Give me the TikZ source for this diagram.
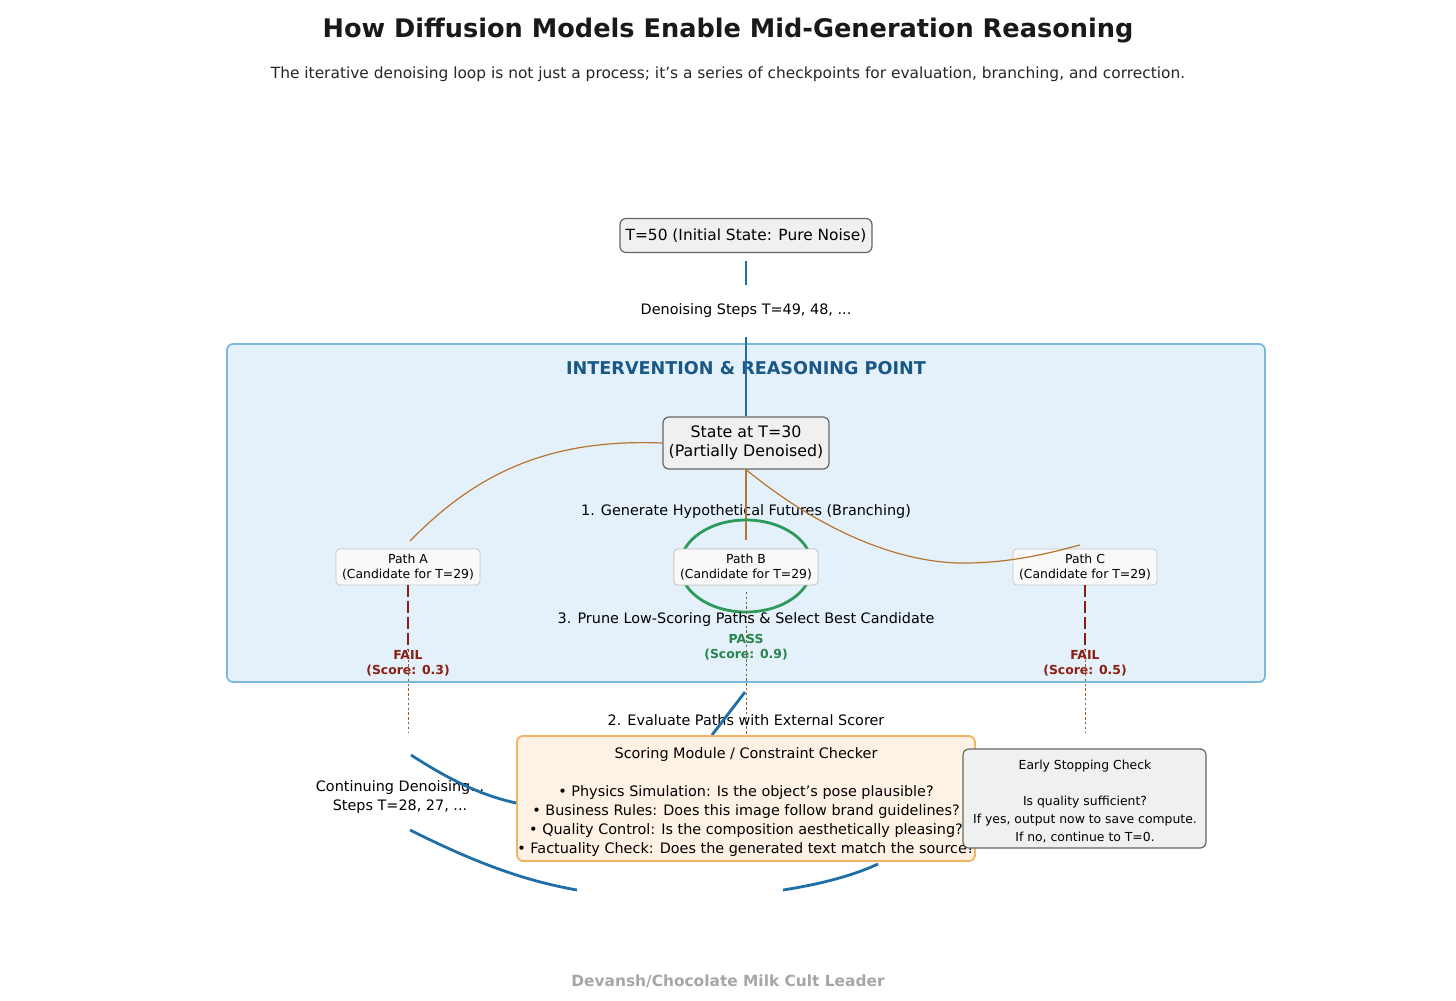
\documentclass[tikz,border=0pt]{standalone}
\usepackage{fontspec}
\setmainfont{DejaVu Sans}
\definecolor{bl}{HTML}{1F6EA6}
\definecolor{regfill}{HTML}{E4F1FB}
\definecolor{regdraw}{HTML}{7AB8DC}
\definecolor{brn}{HTML}{B8732E}
\definecolor{grn}{HTML}{2E9A5A}
\definecolor{dred}{HTML}{8B1E10}
\definecolor{orfill}{HTML}{FDF2E3}
\definecolor{ordraw}{HTML}{F0B464}
\begin{document}
\begin{tikzpicture}[x=0.5pt,y=-0.5pt,
 gbox/.style={draw=gray!80!black,fill=gray!12,rounded corners=3pt,line width=0.6pt,align=center,inner sep=0pt},
 pbox/.style={draw=gray!45,fill=gray!5,rounded corners=2pt,line width=0.4pt,align=center,inner sep=0pt,font=\fontsize{6.2}{7.6}\selectfont},
 t/.style={font=\fontsize{7.2}{9.5}\selectfont,align=center},
 bline/.style={draw=bl,line width=1.4pt},
 br/.style={draw=brn,line width=0.6pt},
 dot/.style={draw=brn!80!black,line width=0.5pt,dash pattern=on 1.2pt off 1.2pt},
 fail/.style={text=dred,font=\bfseries\fontsize{6.2}{7.6}\selectfont,align=center},
 failline/.style={draw=dred,line width=1pt,dash pattern=on 6pt off 2pt}]
\useasboundingbox (0,0) rectangle (1456,1001);
\node[font=\bfseries\fontsize{12.8}{16}\selectfont,text=black!90] (title) at (728,31) {How Diffusion Models Enable Mid-Generation Reasoning};
\node[font=\fontsize{7.7}{10}\selectfont,text=black!85] (sub) at (728,74) {The iterative denoising loop is not just a process; it's a series of checkpoints for evaluation, branching, and correction.};
\node[gbox,minimum width=126pt,minimum height=17pt,font=\fontsize{7.7}{10}\selectfont] (t50) at (746,235.5) {T=50 (Initial State: Pure Noise)};
\node[t] (den) at (746,311) {Denoising Steps T=49, 48, ...};
\coordinate (a1) at (746,261); \coordinate (a2) at (746,285);
\draw[bline] (a1) -- (a2);
\node[draw=regdraw,fill=regfill,rounded corners=3pt,line width=0.9pt,minimum width=519pt,minimum height=169pt] (region) at (746,513) {};
\node[text=bl!80!black,font=\bfseries\fontsize{8.8}{11}\selectfont] (rt) at (746,368) {INTERVENTION \& REASONING POINT};
\coordinate (b1) at (746,337);
\node[gbox,minimum width=83pt,minimum height=26pt,font=\fontsize{7.9}{9.7}\selectfont] (st) at (746,443) {State at T=30\\(Partially Denoised)};
\draw[bline] (b1) -- (st.north);
\node[t] (g1) at (746,512) {1. Generate Hypothetical Futures (Branching)};
\node[pbox,minimum width=72pt,minimum height=18pt] (pa) at (408,567) {Path A\\(Candidate for T=29)};
\node[pbox,minimum width=72pt,minimum height=18pt] (pb) at (746,567) {Path B\\(Candidate for T=29)};
\node[pbox,minimum width=72pt,minimum height=18pt] (pc) at (1085,567) {Path C\\(Candidate for T=29)};
\coordinate (ca) at (410,541); \coordinate (cb) at (746,540); \coordinate (cc) at (1080,545);
\draw[br] (st.west) .. controls (540,438) and (470,480) .. (ca);
\draw[br] (st.south) -- (cb);
\draw[br] (st.south) .. controls (820,530) and (900,565) .. (970,563) .. controls (1020,562) and (1060,550) .. (cc);
\draw[draw=grn,line width=1.4pt] (746,566) ellipse (66 and 46);
\node[pbox,minimum width=72pt,minimum height=18pt] at (746,567) {Path B\\(Candidate for T=29)};
\node[t] (g3) at (746,620) {3. Prune Low-Scoring Paths \& Select Best Candidate};
\node[fail] (fa) at (408,663) {FAIL\\(Score: 0.3)};
\node[fail] (fc) at (1085,663) {FAIL\\(Score: 0.5)};
\node[fail,text=grn!85!black] (pp) at (746,647) {PASS\\(Score: 0.9)};
\coordinate (fa1) at (408,650); \coordinate (fc1) at (1085,650);
\draw[failline] (pa.south) -- (fa1);
\draw[failline] (pc.south) -- (fc1);
\coordinate (da) at (408,733); \coordinate (dc) at (1085,733); \coordinate (db) at (746,735);
\draw[dot] (fa1) -- (da); \draw[dot] (fc1) -- (dc);
\draw[dot] (746,592) -- (db);
\node[t] (g2) at (746,720) {2. Evaluate Paths with External Scorer};
\coordinate (e1) at (745,692); \coordinate (e2) at (712,735);
\draw[bline] (e1) -- (e2);
\node[draw=ordraw,fill=orfill,rounded corners=3pt,line width=0.9pt,minimum width=229pt,minimum height=62.5pt] (sm) at (746,798.5) {};
\node[t,anchor=north] (smt) at (746,740) {Scoring Module / Constraint Checker\\[9.5pt]
 • Physics Simulation: Is the object's pose plausible?\\
 • Business Rules: Does this image follow brand guidelines?\\
 • Quality Control: Is the composition aesthetically pleasing?\\
 • Factuality Check: Does the generated text match the source?};
\node[gbox,minimum width=121.5pt,minimum height=49.5pt] (es) at (1084.5,798.5) {};
\node[font=\fontsize{6.2}{9}\selectfont,align=center,anchor=north] (est) at (1085,753) {Early Stopping Check\\[9pt]Is quality sufficient?\\If yes, output now to save compute.\\If no, continue to T=0.};
\node[t] (cont) at (400,797) {Continuing Denoising...\\Steps T=28, 27, ...};
\coordinate (l1) at (411,755); \coordinate (l2) at (410,830); \coordinate (l3) at (577,890);
\coordinate (r1) at (783,890); \coordinate (r2) at (878,864);
\draw[bline] (l1) .. controls (450,780) and (480,795) .. (sm.west |- 0,803);
\draw[bline] (l2) .. controls (470,860) and (520,880) .. (l3);
\draw[bline] (r1) .. controls (815,885) and (850,877) .. (r2);
\node[text=gray!70,font=\bfseries\fontsize{7.7}{10}\selectfont] (ft) at (728,981) {Devansh/Chocolate Milk Cult Leader};
\end{tikzpicture}
\end{document}
